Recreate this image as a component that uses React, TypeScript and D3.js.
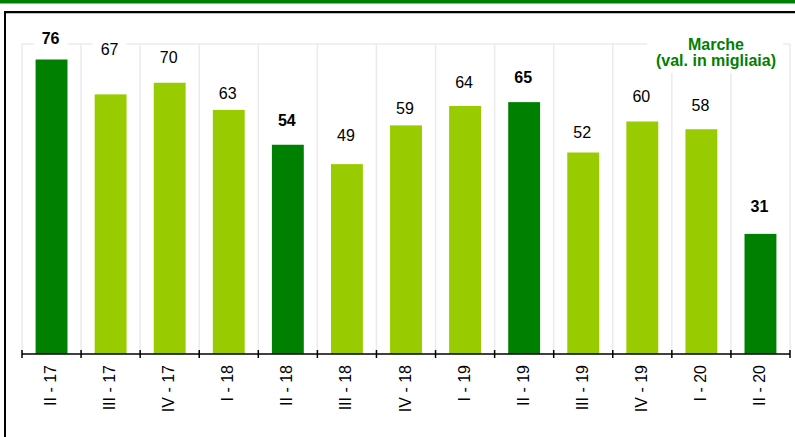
import React from "react";
import * as d3 from "d3";

const categories = [
  "II - 17", "III - 17", "IV - 17", "I - 18", "II - 18", "III - 18", "IV - 18",
  "I - 19", "II - 19", "III - 19", "IV - 19", "I - 20", "II - 20",
];
const values = [76, 67, 70, 63, 54, 49, 59, 64, 65, 52, 60, 58, 31];
// second-quarter bars are highlighted in dark green
const highlighted = [true, false, false, false, true, false, false, false, true, false, false, false, true];
const legendLines = ["Marche", "(val. in migliaia)"];

// layout: how far each value label sits above its bar (px)
const labelLift = [15.5, 39.5, 20, 11, 19, 23, 11.5, 18.5, 19.5, 15, 20, 18.5, 21.5];

const W = 795;
const H = 437;
const DARK = "#008000";
const LIGHT = "#99CC00";
const FONT = "'Liberation Sans', Arial, sans-serif";

export default function App() {
  const x0 = 22;
  const x1 = 790;
  const baseY = 354;
  const topY = 44;

  const xStep = d3.scaleBand<string>().domain(categories).range([x0, x1]).padding(0);
  const xBar = d3
    .scaleBand<string>()
    .domain(categories)
    .range([x0, x1])
    .paddingInner(0.46)
    .paddingOuter(0.23);
  const y = d3.scaleLinear().domain([0, 80]).range([baseY, topY]);

  const tickXs = categories.map((c) => xStep(c) as number).concat([x1]);

  return (
    <svg
      width={W}
      height={H}
      style={{ position: "absolute", left: 0, top: 0, display: "block", background: "#fff" }}
    >
      {/* top title band */}
      <rect x={0} y={0} width={W} height={3.5} fill={DARK} />

      {/* frame */}
      <line x1={4} y1={12} x2={W} y2={12} stroke="#000" strokeWidth={2} />
      <line x1={6} y1={13.5} x2={W} y2={13.5} stroke="#bbb" strokeWidth={1} />
      <line x1={5} y1={11} x2={5} y2={H} stroke="#000" strokeWidth={2} />

      {/* plot area grid */}
      <line x1={x0} y1={topY} x2={x1} y2={topY} stroke="#ebebeb" strokeWidth={1.5} />
      {tickXs.map((tx, i) => (
        <line key={"g" + i} x1={tx} y1={topY} x2={tx} y2={baseY} stroke="#ebebeb" strokeWidth={1.5} />
      ))}

      {/* legend box */}
      <rect x={647} y={30} width={136} height={43} fill="#fff" />
      {legendLines.map((t, i) => (
        <text
          key={"lg" + i}
          x={716}
          y={49.5 + i * 16.5}
          textAnchor="middle"
          fontFamily={FONT}
          fontWeight="bold"
          fontSize={16}
          fill={DARK}
        >
          {t}
        </text>
      ))}

      {/* bars */}
      {categories.map((c, i) => (
        <rect
          key={"b" + i}
          x={xBar(c) as number}
          y={y(values[i])}
          width={xBar.bandwidth()}
          height={baseY - y(values[i])}
          fill={highlighted[i] ? DARK : LIGHT}
        />
      ))}

      {/* value labels */}
      {categories.map((c, i) => {
        const cx = (xStep(c) as number) + xStep.bandwidth() / 2 - 1;
        const by = y(values[i]) - labelLift[i];
        return (
          <g key={"v" + i}>
            <rect x={cx - 17} y={by - 15} width={34} height={19} fill="#fff" />
            <text
              x={cx}
              y={by}
              textAnchor="middle"
              fontFamily={FONT}
              fontSize={16}
              fontWeight={highlighted[i] ? "bold" : "normal"}
              fill="#000"
            >
              {values[i]}
            </text>
          </g>
        );
      })}

      {/* x axis */}
      <line x1={x0} y1={baseY} x2={x1} y2={baseY} stroke="#000" strokeWidth={1.5} />
      {tickXs.map((tx, i) => (
        <line key={"t" + i} x1={tx} y1={baseY - 4} x2={tx} y2={baseY + 4} stroke="#000" strokeWidth={1.5} />
      ))}
      {categories.map((c, i) => {
        const cx = (xStep(c) as number) + xStep.bandwidth() / 2 - 1;
        const ty = 365;
        return (
          <text
            key={"x" + i}
            transform={`translate(${cx},${ty}) rotate(-90)`}
            textAnchor="end"
            dominantBaseline="central"
            fontFamily={FONT}
            fontSize={16}
            fill="#000"
          >
            {c}
          </text>
        );
      })}
    </svg>
  );
}
